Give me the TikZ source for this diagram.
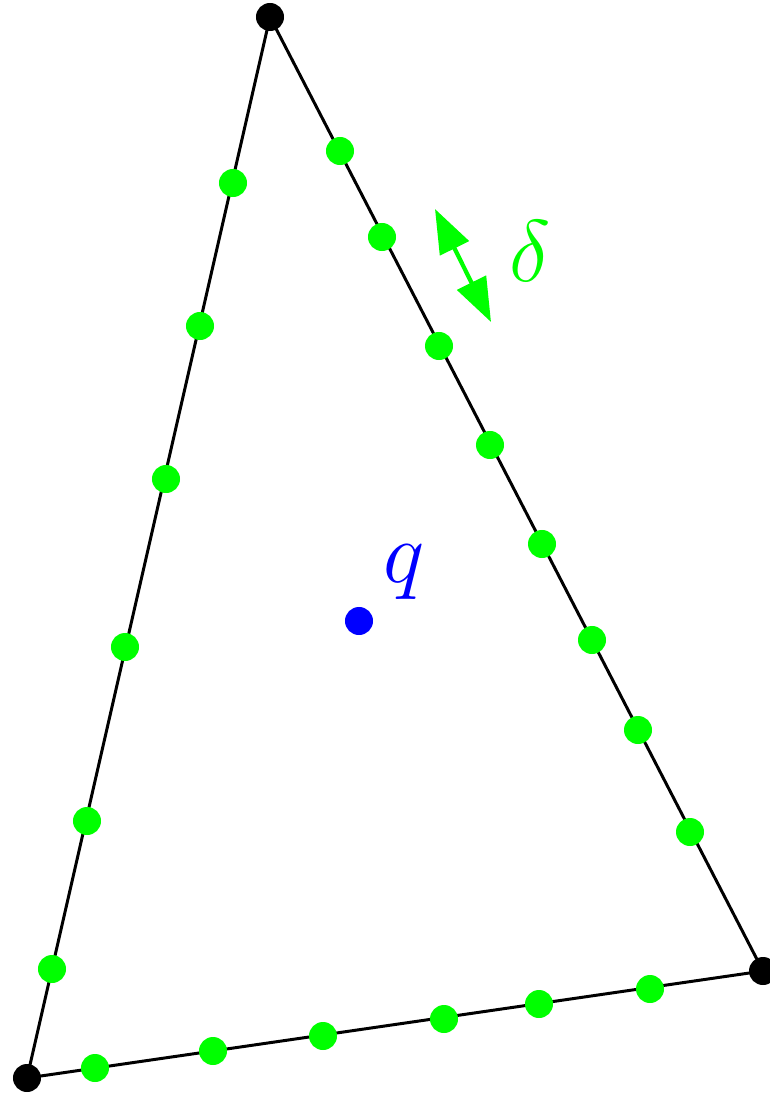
\documentclass[tikz,border=0pt]{standalone}
\usepackage{amsmath}
\usepackage{tikz}
\usetikzlibrary{arrows.meta}

\begin{document}
\begin{tikzpicture}[x=0.01cm, y=-0.01cm,
    vtx/.style={circle, fill=black, inner sep=0pt, minimum size=0.28cm},
    sample/.style={circle, fill=green, inner sep=0pt, minimum size=0.28cm},
    query/.style={circle, fill=blue, inner sep=0pt, minimum size=0.28cm},
    edge/.style={line width=0.85pt, black}]
    \useasboundingbox (0,0) rectangle (769,1094);

    % Triangle corners
    \coordinate (A) at (270,17);
    \coordinate (B) at (27,1078);
    \coordinate (C) at (763,971);
    \draw[edge] (A) -- (B) -- (C) -- cycle;

    % Samples on the boundary
    \foreach \p [count=\i] in {(233,183),(200,326),(166,479),(125,647),(87,821),(52,969)}
        \node[sample] (l\i) at \p {};
    \foreach \p [count=\i] in {(340,151),(382,237),(439,346),(490,445),(542,544),(592,640),(638,730),(690,832)}
        \node[sample] (r\i) at \p {};
    \foreach \p [count=\i] in {(95,1068),(213,1051),(323,1036),(444,1019),(539,1004),(650,989)}
        \node[sample] (b\i) at \p {};

    % Corner points
    \node[vtx] (vA) at (A) {};
    \node[vtx] (vB) at (B) {};
    \node[vtx] (vC) at (C) {};

    % Query point
    \node[query] (q) at (359,621) {};
    \node[blue, font=\fontsize{24}{28}\selectfont] (qlab) at (404,572) {$q$};

    % Spacing
    \coordinate (d1) at (435,209);
    \coordinate (d2) at (491,322);
    \draw[green, line width=1.2pt, {Triangle[length=12.5pt, width=9pt]}-{Triangle[length=12.5pt, width=9pt]}] (d1) -- (d2);
    \node[green, font=\fontsize{24}{28}\selectfont] (dlab) at (530,251) {$\delta$};
\end{tikzpicture}
\end{document}
